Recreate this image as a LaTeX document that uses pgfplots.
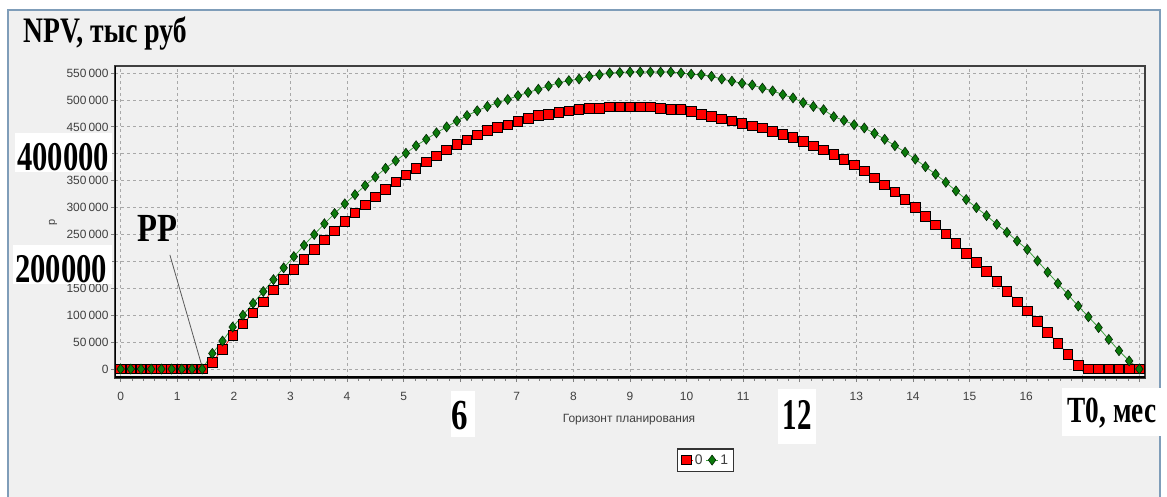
\documentclass[border=0pt]{standalone}
\usepackage{fontspec}
\setmainfont{Liberation Serif}
\newfontfamily\arial{Liberation Sans}
\usepackage{graphicx}
\usepackage{pgfplots}
\pgfplotsset{compat=1.18}
\usepackage{pgfplotstable}

\definecolor{bg}{HTML}{F0F0F0}
\definecolor{framec}{HTML}{7F9DB9}
\definecolor{gridc}{HTML}{A8A8A8}
\definecolor{tickc}{HTML}{404040}
\definecolor{dgreen}{HTML}{0B7A0B}
\definecolor{lgreen}{HTML}{3FA03F}

% NPV (руб) по горизонту планирования: r = вариант 0, g = вариант 1
\pgfplotstableread{
x     r      g
0     0      0
0.18  0      0
0.36  0      0
0.54  0      0
0.72  0      0
0.9   0      0
1.08  0      0
1.26  0      0
1.44  0      0
1.62  12000  29000
1.8   37000  52000
1.98  63000  78000
2.16  84000  100000
2.34  104000 122000
2.52  125000 144000
2.7   147000 166000
2.88  167000 188000
3.06  185000 209000
3.24  204000 230000
3.42  222000 250000
3.6   240000 270000
3.78  257000 289000
3.96  274000 307000
4.14  290000 324000
4.32  305000 341000
4.5   320000 357000
4.68  334000 373000
4.86  348000 387000
5.04  361000 401000
5.22  373000 415000
5.4   385000 427000
5.58  396000 439000
5.76  407000 450000
5.94  417000 461000
6.12  426000 471000
6.3   435000 480000
6.48  443000 488000
6.66  449000 495000
6.84  454000 501000
7.02  460000 508000
7.2   466000 514000
7.38  471000 520000
7.56  473000 526000
7.74  477000 532000
7.92  480000 536000
8.1   482000 539000
8.28  484000 544000
8.46  484000 547000
8.64  487000 550000
8.82  487000 551000
9.0   487000 552000
9.18  487000 552000
9.36  487000 552000
9.54  484000 552000
9.72  482000 552000
9.9   482000 550000
10.08 479000 548000
10.26 473000 547000
10.44 469000 544000
10.62 465000 539000
10.8  461000 535000
10.98 457000 531000
11.16 452000 528000
11.34 448000 522000
11.52 442000 517000
11.7  436000 510000
11.88 430000 504000
12.06 423000 495000
12.24 415000 488000
12.42 407000 482000
12.6  399000 469000
12.78 390000 462000
12.96 379000 454000
13.14 368000 448000
13.32 355000 438000
13.5  342000 427000
13.68 329000 415000
13.86 315000 403000
14.04 300000 390000
14.22 284000 376000
14.4  268000 362000
14.58 251000 347000
14.76 233000 331000
14.94 215000 315000
15.12 198000 300000
15.3  181000 285000
15.48 163000 269000
15.66 144000 254000
15.84 125000 238000
16.02 108000 222000
16.2  88000  201000
16.38 68000  180000
16.56 48000  159000
16.74 27000  138000
16.92 7000   117000
17.1  0      97000
17.28 0      77000
17.46 0      55000
17.64 0      34000
17.82 0      15000
18.0  0      0
}\npv

\begin{document}
\begin{tikzpicture}[x=1bp,y=1bp]
\useasboundingbox (0,0) rectangle (1167,497);
\fill[white] (0,0) rectangle (1167,497);
\filldraw[fill=bg, draw=framec, line width=1.5bp] (8,-2) rectangle (1160,487);

\begin{axis}[
    at={(115bp,119bp)}, anchor=south west,
    scale only axis, width=1030bp, height=312bp,
    xmin=-0.1, xmax=18.1,
    ymin=-16700, ymax=563200,
    xtick={0,1,...,18},
    xticklabels={0,1,2,3,4,5,,7,8,9,10,11,,13,14,15,16,,},
    ytick={0,50000,...,550000},
    yticklabels={0,50\,000,100\,000,150\,000,,250\,000,300\,000,350\,000,,450\,000,500\,000,550\,000},
    minor x tick num=4,
    scaled y ticks=false,
    axis background/.style={fill=bg},
    axis line style={draw=black!75, line width=1.2bp},
    grid=major,
    major grid style={draw=gridc, line width=0.8bp, dash pattern=on 3bp off 3bp},
    tick align=outside, tick pos=left,
    major tick length=4bp, minor tick length=3bp,
    every tick/.style={draw=gray, line width=0.8bp},
    tick label style={font=\fontsize{12}{12}\selectfont\arial, text=tickc},
    xticklabel style={yshift=-7bp},
    yticklabel style={xshift=1bp},
    legend style={at={(0.573,-0.263)}, anchor=center, draw=black!80, line width=1.2bp,
        fill=white, font=\fontsize{14}{14}\selectfont\arial, text=tickc,
        legend columns=-1, inner xsep=3bp, inner ysep=3.5bp,
        /tikz/every even column/.append style={column sep=1bp}},
    legend image code/.code={\draw[#1, mark repeat=2, mark phase=2] plot coordinates {(0bp,0bp) (6bp,0bp) (12bp,0bp)};},
]
\addplot[color=red, line width=0.8bp, mark=square*, mark size=4.8bp,
    mark options={fill=red, draw=black, line width=0.8bp}] table[x=x, y=r] {\npv};
\addlegendentry{0}
\addplot[color=lgreen, line width=0.8bp, mark=diamond*, mark size=5bp,
    mark options={fill=dgreen, draw=black!70!dgreen, line width=0.6bp}] table[x=x, y=g] {\npv};
\addlegendentry{1}
\draw[black, line width=2.5bp] (rel axis cs:0,0) -- (rel axis cs:0,1);
\draw[black, line width=3bp] (rel axis cs:0,0) -- (rel axis cs:1,0);
\draw[black!65, line width=0.8bp] (axis cs:0.87,212000) -- (axis cs:1.44,4000);
\end{axis}

% подписи поверх графика
\node[anchor=base west, inner sep=0, font=\fontsize{36}{36}\selectfont\bfseries] at (23,454.5) {\scalebox{0.77}[1]{NPV, тыс руб}};
\fill[white] (15,325) rectangle (112,364.3);
\node[anchor=base, inner sep=0, font=\fontsize{41}{41}\selectfont\bfseries] at (63,326) {\scalebox{0.75}[1]{400000}};
\fill[white] (13,213) rectangle (112,252);
\node[anchor=base, inner sep=0, font=\fontsize{41}{41}\selectfont\bfseries] at (61,214) {\scalebox{0.75}[1]{200000}};
\node[anchor=base, inner sep=0, font=\fontsize{40}{40}\selectfont\bfseries] at (157,255.3) {\scalebox{0.82}[1]{PP}};
\fill[white] (450.7,60.3) rectangle (474.5,106.3);
\node[anchor=base, inner sep=0, font=\fontsize{43}{43}\selectfont\bfseries] at (460,67.7) {\scalebox{0.77}[1]{6}};
\fill[white] (778,53) rectangle (816,108);
\node[anchor=base, inner sep=0, font=\fontsize{44}{44}\selectfont\bfseries] at (797,67) {\scalebox{0.66}[1]{12}};
\fill[white] (1062,61) rectangle (1163,109);
\node[anchor=base, inner sep=0, font=\fontsize{37}{37}\selectfont\bfseries] at (1112,74.3) {\scalebox{0.74}[1]{T0, мес}};
\node[font=\fontsize{12}{12}\selectfont\arial, text=tickc] at (629,77) {Горизонт планирования};
\node[rotate=90, font=\fontsize{11}{11}\selectfont\arial, text=tickc] at (53,275) {р};
\end{tikzpicture}
\end{document}
